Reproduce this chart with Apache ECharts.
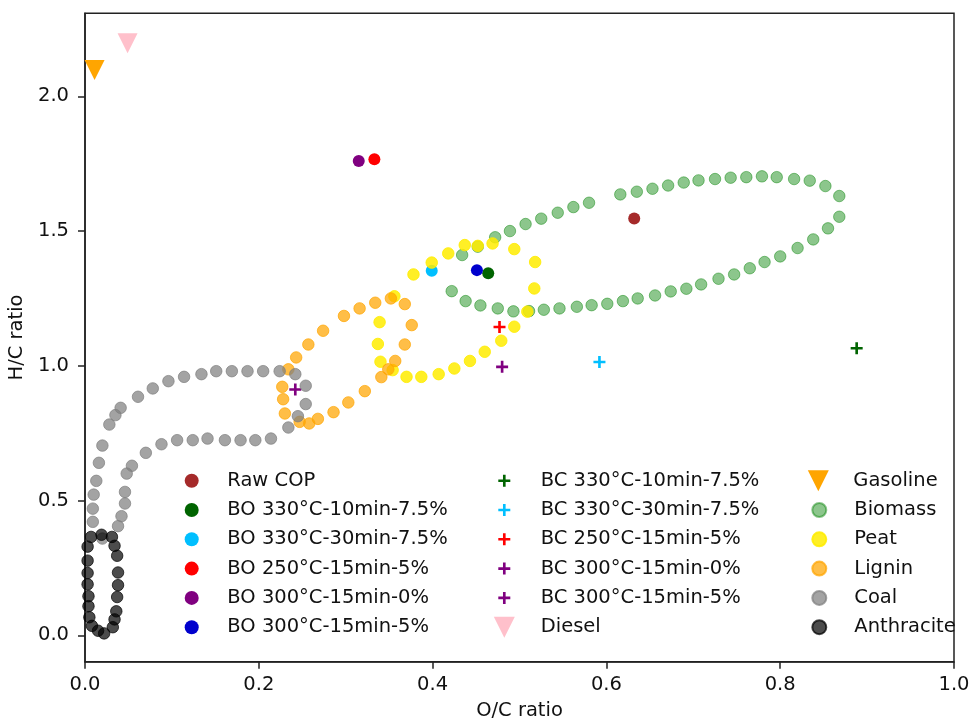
<!DOCTYPE html>
<html><head><meta charset="utf-8">
<script src="https://cdn.jsdelivr.net/npm/echarts@6/dist/echarts.min.js"></script>
<style>html,body{margin:0;padding:0;background:#fff}#c{width:969px;height:720px}</style>
</head><body><div id="c"></div>
<script>
// ---- data: [O/C, H/C] ----
const rawCOP   = [[0.632, 1.547]];
const bo330_10 = [[0.464, 1.343]];
const bo330_30 = [[0.399, 1.353]];
const bo250_15 = [[0.333, 1.766]];
const bo300_0  = [[0.315, 1.760]];
const bo300_5  = [[0.451, 1.355]];
const bc330_10 = [[0.888, 1.065]];
const bc330_30 = [[0.592, 1.014]];
const bc250_15 = [[0.477, 1.144]];
const bc300_0  = [[0.242, 0.912]];
const bc300_5  = [[0.480, 0.996]];
const diesel   = [[0.049, 2.197]];
const gasoline = [[0.011, 2.098]];
const biomass = [[0.472,1.477],[0.489,1.500],[0.507,1.526],[0.525,1.546],[0.544,1.568],[0.562,1.589],[0.580,1.605],[0.616,1.636],[0.635,1.646],[0.653,1.657],[0.671,1.669],[0.689,1.680],[0.706,1.688],[0.725,1.693],[0.743,1.698],[0.761,1.700],[0.779,1.703],[0.796,1.700],[0.816,1.693],[0.834,1.687],[0.852,1.667],[0.868,1.630],[0.868,1.553],[0.855,1.510],[0.838,1.469],[0.820,1.437],[0.800,1.406],[0.782,1.385],[0.765,1.362],[0.747,1.339],[0.729,1.323],[0.709,1.302],[0.692,1.286],[0.674,1.276],[0.656,1.261],[0.636,1.250],[0.619,1.240],[0.601,1.230],[0.583,1.225],[0.566,1.219],[0.546,1.213],[0.528,1.208],[0.511,1.203],[0.493,1.202],[0.475,1.213],[0.455,1.224],[0.438,1.240],[0.422,1.277],[0.434,1.411],[0.452,1.442]];
const peat = [[0.378,1.339],[0.399,1.383],[0.418,1.417],[0.437,1.448],[0.452,1.445],[0.469,1.454],[0.494,1.433],[0.518,1.385],[0.517,1.287],[0.509,1.201],[0.494,1.145],[0.479,1.093],[0.460,1.052],[0.443,1.018],[0.425,0.990],[0.407,0.969],[0.387,0.959],[0.370,0.959],[0.354,0.984],[0.340,1.015],[0.337,1.081],[0.339,1.162],[0.356,1.258]];
const lignin = [[0.227,0.922],[0.228,0.876],[0.230,0.823],[0.247,0.792],[0.258,0.786],[0.268,0.803],[0.286,0.828],[0.303,0.864],[0.322,0.906],[0.341,0.958],[0.349,0.987],[0.357,1.018],[0.368,1.079],[0.376,1.151],[0.368,1.229],[0.352,1.250],[0.334,1.234],[0.316,1.213],[0.298,1.185],[0.274,1.130],[0.257,1.079],[0.243,1.031],[0.234,0.987]];
const coal = [[0.009,0.421],[0.009,0.470],[0.010,0.522],[0.013,0.573],[0.016,0.640],[0.020,0.704],[0.028,0.782],[0.035,0.817],[0.041,0.844],[0.061,0.885],[0.078,0.916],[0.096,0.943],[0.114,0.959],[0.134,0.969],[0.151,0.980],[0.169,0.980],[0.187,0.980],[0.205,0.980],[0.224,0.980],[0.242,0.969],[0.254,0.926],[0.254,0.858],[0.245,0.813],[0.234,0.771],[0.214,0.730],[0.196,0.724],[0.179,0.724],[0.161,0.724],[0.141,0.730],[0.124,0.724],[0.106,0.724],[0.088,0.709],[0.070,0.677],[0.054,0.629],[0.048,0.600],[0.046,0.532],[0.046,0.489],[0.042,0.442],[0.038,0.405],[0.020,0.359]];
const anthracite = [[0.007,0.365],[0.019,0.373],[0.031,0.365],[0.034,0.332],[0.037,0.295],[0.038,0.233],[0.038,0.186],[0.037,0.142],[0.036,0.089],[0.034,0.059],[0.032,0.030],[0.022,0.007],[0.015,0.017],[0.008,0.035],[0.005,0.067],[0.004,0.108],[0.004,0.145],[0.003,0.189],[0.003,0.231],[0.003,0.277],[0.003,0.329]];
const xTicks = [0, 0.2, 0.4, 0.6, 0.8, 1.0];
const yTicks = [0, 0.5, 1.0, 1.5, 2.0];

const FONT = 'DejaVu Sans';
const FS = 19.5;
const PLUS = 'path://M39,0H61V39H100V61H61V100H39V61H0V39H39Z';
const TRI_DOWN = 'path://M0,0L100,0L50,100Z';

function S(name, data, color, symbol, size, border) {
  return {
    type: 'scatter', name, data, symbol, symbolSize: size,
    itemStyle: { color, opacity: 1, borderColor: border ? color : undefined, borderWidth: border ? 1 : 0 },
    emphasis: { disabled: true }, animation: false
  };
}

const series = [
  S('Raw COP', rawCOP, '#a52a2a', 'circle', 12),
  S('BO 330°C-10min-7.5%', bo330_10, '#006400', 'circle', 12),
  S('BO 330°C-30min-7.5%', bo330_30, '#00bfff', 'circle', 12),
  S('BO 250°C-15min-5%', bo250_15, '#ff0000', 'circle', 12),
  S('BO 300°C-15min-0%', bo300_0, '#800080', 'circle', 12),
  S('BO 300°C-15min-5%', bo300_5, '#0000cd', 'circle', 12),
  S('BC 330°C-10min-7.5%', bc330_10, '#006400', PLUS, 12),
  S('BC 330°C-30min-7.5%', bc330_30, '#00bfff', PLUS, 12),
  S('BC 250°C-15min-5%', bc250_15, '#ff0000', PLUS, 12),
  S('BC 300°C-15min-0%', bc300_0, '#800080', PLUS, 12),
  S('BC 300°C-15min-5%', bc300_5, '#800080', PLUS, 12),
  S('Diesel', diesel, '#ffc0cb', TRI_DOWN, 20),
  S('Gasoline', gasoline, '#ffa500', TRI_DOWN, 20),
  S('Biomass', biomass, 'rgba(0,128,0,0.45)', 'circle', 11.5, true),
  S('Peat', peat, 'rgba(255,236,0,0.85)', 'circle', 11.5, true),
  S('Lignin', lignin, 'rgba(255,165,0,0.72)', 'circle', 11.5, true),
  S('Coal', coal, 'rgba(128,128,128,0.72)', 'circle', 11.5, true),
  S('Anthracite', anthracite, 'rgba(0,0,0,0.7)', 'circle', 11.5, true)
];

function L(names, left, centerY, iw, ih, pad) {
  return {
    data: names, orient: 'vertical', left, top: centerY - 12, itemWidth: iw, itemHeight: ih,
    itemGap: 5.3, padding: 0, selectedMode: false,
    textStyle: { fontFamily: FONT, fontSize: FS, color: '#111', lineHeight: 24, padding: [0, 0, 0, pad] }
  };
}

const option = {
  animation: false,
  backgroundColor: '#fff',
  grid: { left: 85, right: 15, top: 13.3, bottom: 58.3, outerBoundsMode: 'none', containLabel: false, show: true, borderColor: '#222', borderWidth: 1.5, backgroundColor: 'transparent' },
  xAxis: {
    type: 'value', min: 0, max: 1, interval: 0.2,
    name: 'O/C ratio', nameLocation: 'middle', nameGap: 39,
    nameTextStyle: { fontFamily: FONT, fontSize: FS, color: '#111' },
    axisLine: { onZero: false, lineStyle: { color: '#222', width: 1.5 } },
    axisTick: { show: true, length: 7, lineStyle: { color: '#222', width: 1.5 } },
    axisLabel: { fontFamily: FONT, fontSize: FS, color: '#111', margin: 13, formatter: v => v.toFixed(1) },
    splitLine: { show: false }
  },
  yAxis: {
    type: 'value', min: -0.098, max: 2.308,
    name: 'H/C ratio', nameLocation: 'middle', nameGap: 48,
    nameTextStyle: { fontFamily: FONT, fontSize: FS, color: '#111' },
    axisLine: { onZero: false, lineStyle: { color: '#222', width: 1.5 } },
    axisTick: { show: true, length: 7, customValues: yTicks, lineStyle: { color: '#222', width: 1.5 } },
    axisLabel: { fontFamily: FONT, fontSize: FS, color: '#111', margin: 16, customValues: yTicks, formatter: v => v.toFixed(1) },
    splitLine: { show: false }
  },
  legend: [
    L(['Raw COP','BO 330°C-10min-7.5%','BO 330°C-30min-7.5%','BO 250°C-15min-5%','BO 300°C-15min-0%','BO 300°C-15min-5%'], 184.7, 480.7, 14, 14, 23.6),
    L(['BC 330°C-10min-7.5%','BC 330°C-30min-7.5%','BC 250°C-15min-5%','BC 300°C-15min-0%','BC 300°C-15min-5%'], 498.3, 480.7, 12, 12, 25.4),
    L(['Diesel'], 493.8, 627.3, 21, 21, 20.9),
    L(['Gasoline'], 807.8, 480.7, 21, 21, 19.5),
    L(['Biomass','Peat','Lignin','Coal','Anthracite'], 811.3, 510, 14, 14, 23)
  ],
  series
};

const chart = echarts.init(document.getElementById('c'), null, { renderer: 'canvas' });
chart.setOption(option);
</script></body></html>
